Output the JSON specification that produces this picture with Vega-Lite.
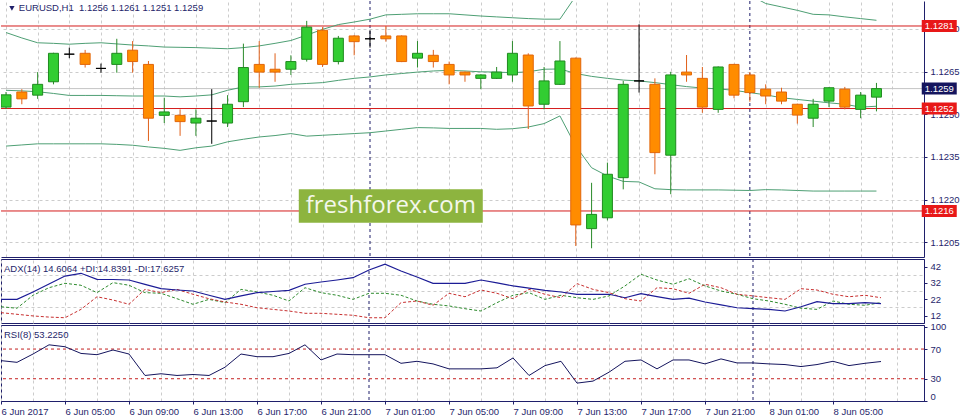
{
"$schema": "https://vega.github.io/schema/vega-lite/v6.json",
"padding": 0,
"background": "white",
"spacing": 2,
"bounds": "flush",
"config": {
  "axis": {"labelFont": "Liberation Sans", "labelFontSize": 9.5, "labelColor": "#1f1f6b", "domainColor": "#1f1f6b", "tickColor": "#1f1f6b", "gridColor": "#cccccc", "gridDash": [3, 3]},
  "text": {"font": "Liberation Sans"}
},
"datasets": {
  "bars": [
    {"t":"2017-06-06T01:00:00Z","o":1.12525,"h":1.12578,"l":1.12518,"c":1.12568,"bu":1.12787,"bm":1.12584,"bl":1.12388,"adx":22.0,"pdi":17.5,"mdi":13.9,"rsi":54.4},
    {"t":"2017-06-06T02:00:00Z","o":1.12578,"h":1.12588,"l":1.12535,"c":1.12554,"bu":1.12768,"bm":1.12582,"bl":1.12392,"adx":22.0,"pdi":16.6,"mdi":12.9,"rsi":52.1},
    {"t":"2017-06-06T03:00:00Z","o":1.12567,"h":1.12648,"l":1.12554,"c":1.12605,"bu":1.12751,"bm":1.12579,"bl":1.12396,"adx":26.5,"pdi":24.5,"mdi":11.9,"rsi":63.3},
    {"t":"2017-06-06T04:00:00Z","o":1.12614,"h":1.12716,"l":1.12605,"c":1.12714,"bu":1.12749,"bm":1.12573,"bl":1.12396,"adx":31.4,"pdi":29.1,"mdi":11.2,"rsi":75.7},
    {"t":"2017-06-06T05:00:00Z","o":1.12711,"h":1.12734,"l":1.12697,"c":1.12711,"bu":1.12746,"bm":1.12566,"bl":1.12396,"adx":36.2,"pdi":31.8,"mdi":10.8,"rsi":73.1},
    {"t":"2017-06-06T06:00:00Z","o":1.12714,"h":1.12726,"l":1.12664,"c":1.12675,"bu":1.12749,"bm":1.12566,"bl":1.12396,"adx":37.9,"pdi":30.6,"mdi":15.9,"rsi":64.1},
    {"t":"2017-06-06T07:00:00Z","o":1.12661,"h":1.12678,"l":1.12646,"c":1.12661,"bu":1.12751,"bm":1.12566,"bl":1.12396,"adx":34.2,"pdi":26.1,"mdi":23.6,"rsi":62.4},
    {"t":"2017-06-06T08:00:00Z","o":1.12675,"h":1.12765,"l":1.12646,"c":1.12714,"bu":1.12747,"bm":1.12565,"bl":1.12394,"adx":34.1,"pdi":32.2,"mdi":21.6,"rsi":68.7},
    {"t":"2017-06-06T09:00:00Z","o":1.12725,"h":1.12757,"l":1.12646,"c":1.12685,"bu":1.12743,"bm":1.12564,"bl":1.12391,"adx":33.8,"pdi":30.6,"mdi":19.0,"rsi":63.3},
    {"t":"2017-06-06T10:00:00Z","o":1.12675,"h":1.12687,"l":1.12406,"c":1.12486,"bu":1.1274,"bm":1.12564,"bl":1.12385,"adx":31.1,"pdi":26.1,"mdi":28.1,"rsi":34.4},
    {"t":"2017-06-06T11:00:00Z","o":1.12496,"h":1.12558,"l":1.12469,"c":1.12508,"bu":1.12736,"bm":1.12564,"bl":1.1238,"adx":28.5,"pdi":25.7,"mdi":26.1,"rsi":36.7},
    {"t":"2017-06-06T12:00:00Z","o":1.12496,"h":1.12517,"l":1.12424,"c":1.12474,"bu":1.12735,"bm":1.12561,"bl":1.12373,"adx":27.7,"pdi":22.4,"mdi":28.1,"rsi":34.4},
    {"t":"2017-06-06T13:00:00Z","o":1.12469,"h":1.12517,"l":1.12424,"c":1.12486,"bu":1.12734,"bm":1.12564,"bl":1.12382,"adx":27.1,"pdi":19.0,"mdi":25.1,"rsi":35.7},
    {"t":"2017-06-06T14:00:00Z","o":1.12476,"h":1.12588,"l":1.12396,"c":1.12476,"bu":1.12732,"bm":1.12568,"bl":1.12388,"adx":24.5,"pdi":22.0,"mdi":22.4,"rsi":34.4},
    {"t":"2017-06-06T15:00:00Z","o":1.12469,"h":1.12567,"l":1.12455,"c":1.12535,"bu":1.1273,"bm":1.12584,"bl":1.12403,"adx":22.0,"pdi":20.0,"mdi":20.4,"rsi":45.5},
    {"t":"2017-06-06T16:00:00Z","o":1.12544,"h":1.12748,"l":1.12525,"c":1.12664,"bu":1.12734,"bm":1.12596,"bl":1.12412,"adx":24.1,"pdi":28.1,"mdi":19.0,"rsi":63.3},
    {"t":"2017-06-06T17:00:00Z","o":1.12675,"h":1.12757,"l":1.12593,"c":1.12648,"bu":1.1274,"bm":1.12596,"bl":1.1242,"adx":26.1,"pdi":26.5,"mdi":16.9,"rsi":59.7},
    {"t":"2017-06-06T18:00:00Z","o":1.12658,"h":1.12714,"l":1.12614,"c":1.12648,"bu":1.12749,"bm":1.12599,"bl":1.12425,"adx":26.8,"pdi":24.5,"mdi":15.9,"rsi":59.7},
    {"t":"2017-06-06T19:00:00Z","o":1.12658,"h":1.12707,"l":1.12638,"c":1.12685,"bu":1.12759,"bm":1.12605,"bl":1.12432,"adx":27.5,"pdi":21.0,"mdi":14.9,"rsi":64.1},
    {"t":"2017-06-06T20:00:00Z","o":1.12693,"h":1.12828,"l":1.12685,"c":1.12806,"bu":1.12778,"bm":1.12608,"bl":1.12423,"adx":31.2,"pdi":29.1,"mdi":13.5,"rsi":75.7},
    {"t":"2017-06-06T21:00:00Z","o":1.12795,"h":1.12806,"l":1.12666,"c":1.12675,"bu":1.12798,"bm":1.12611,"bl":1.12426,"adx":32.6,"pdi":26.1,"mdi":13.5,"rsi":55.3},
    {"t":"2017-06-06T22:00:00Z","o":1.12685,"h":1.12775,"l":1.12675,"c":1.12767,"bu":1.12815,"bm":1.12619,"bl":1.12429,"adx":33.8,"pdi":24.5,"mdi":12.9,"rsi":63.3},
    {"t":"2017-06-06T23:00:00Z","o":1.12775,"h":1.12778,"l":1.12707,"c":1.12755,"bu":1.12824,"bm":1.12626,"bl":1.12432,"adx":35.2,"pdi":22.0,"mdi":12.3,"rsi":62.4},
    {"t":"2017-06-07T00:00:00Z","o":1.12765,"h":1.12795,"l":1.12734,"c":1.12765,"bu":1.12834,"bm":1.12631,"bl":1.12435,"adx":39.9,"pdi":25.7,"mdi":10.8,"rsi":62.4},
    {"t":"2017-06-07T01:00:00Z","o":1.12775,"h":1.1281,"l":1.12755,"c":1.12765,"bu":1.12849,"bm":1.12638,"bl":1.12441,"adx":43.4,"pdi":25.7,"mdi":10.8,"rsi":62.4},
    {"t":"2017-06-07T02:00:00Z","o":1.12775,"h":1.12777,"l":1.12683,"c":1.12685,"bu":1.12851,"bm":1.12643,"bl":1.12447,"adx":39.3,"pdi":24.5,"mdi":20.0,"rsi":50.8},
    {"t":"2017-06-07T03:00:00Z","o":1.12697,"h":1.12757,"l":1.12664,"c":1.12714,"bu":1.12853,"bm":1.12648,"bl":1.12453,"adx":35.6,"pdi":21.0,"mdi":21.0,"rsi":53.5},
    {"t":"2017-06-07T04:00:00Z","o":1.12707,"h":1.12726,"l":1.12664,"c":1.12685,"bu":1.12853,"bm":1.12652,"bl":1.12452,"adx":31.8,"pdi":19.0,"mdi":18.4,"rsi":50.0},
    {"t":"2017-06-07T05:00:00Z","o":1.12675,"h":1.12685,"l":1.12605,"c":1.12638,"bu":1.12853,"bm":1.12654,"bl":1.1245,"adx":31.8,"pdi":18.0,"mdi":25.7,"rsi":43.3},
    {"t":"2017-06-07T06:00:00Z","o":1.12648,"h":1.1265,"l":1.12614,"c":1.12638,"bu":1.12849,"bm":1.12652,"bl":1.1245,"adx":31.8,"pdi":16.3,"mdi":23.6,"rsi":43.3},
    {"t":"2017-06-07T07:00:00Z","o":1.12626,"h":1.1264,"l":1.12588,"c":1.12638,"bu":1.12845,"bm":1.12649,"bl":1.1245,"adx":33.8,"pdi":14.9,"mdi":27.7,"rsi":43.3},
    {"t":"2017-06-07T08:00:00Z","o":1.12626,"h":1.12666,"l":1.12624,"c":1.12648,"bu":1.12842,"bm":1.12648,"bl":1.12447,"adx":32.0,"pdi":20.0,"mdi":25.7,"rsi":44.7},
    {"t":"2017-06-07T09:00:00Z","o":1.12638,"h":1.12757,"l":1.12614,"c":1.12714,"bu":1.12839,"bm":1.12646,"bl":1.12449,"adx":30.2,"pdi":24.5,"mdi":22.4,"rsi":58.0},
    {"t":"2017-06-07T10:00:00Z","o":1.12708,"h":1.12714,"l":1.12448,"c":1.12529,"bu":1.12836,"bm":1.12649,"bl":1.12455,"adx":28.9,"pdi":26.1,"mdi":28.1,"rsi":34.4},
    {"t":"2017-06-07T11:00:00Z","o":1.12535,"h":1.12666,"l":1.12517,"c":1.12617,"bu":1.12834,"bm":1.12658,"bl":1.12467,"adx":27.5,"pdi":22.0,"mdi":25.1,"rsi":47.7},
    {"t":"2017-06-07T12:00:00Z","o":1.12605,"h":1.12757,"l":1.12603,"c":1.12687,"bu":1.12834,"bm":1.12659,"bl":1.12494,"adx":26.5,"pdi":24.5,"mdi":23.0,"rsi":53.5},
    {"t":"2017-06-07T13:00:00Z","o":1.12697,"h":1.12699,"l":1.12037,"c":1.12111,"bu":1.12915,"bm":1.12643,"bl":1.12388,"adx":25.1,"pdi":23.0,"mdi":31.6,"rsi":24.1},
    {"t":"2017-06-07T14:00:00Z","o":1.12098,"h":1.12259,"l":1.12029,"c":1.12148,"bu":1.12942,"bm":1.12633,"bl":1.12312,"adx":25.1,"pdi":22.0,"mdi":28.1,"rsi":26.8},
    {"t":"2017-06-07T15:00:00Z","o":1.12136,"h":1.1233,"l":1.12127,"c":1.12289,"bu":1.12958,"bm":1.12626,"bl":1.12283,"adx":25.1,"pdi":24.1,"mdi":26.1,"rsi":38.8},
    {"t":"2017-06-07T16:00:00Z","o":1.12277,"h":1.12617,"l":1.12236,"c":1.12605,"bu":1.12973,"bm":1.1262,"bl":1.12264,"adx":23.0,"pdi":30.2,"mdi":22.4,"rsi":53.5},
    {"t":"2017-06-07T17:00:00Z","o":1.12617,"h":1.12816,"l":1.12576,"c":1.12617,"bu":1.12972,"bm":1.12617,"bl":1.12262,"adx":25.5,"pdi":37.3,"mdi":21.0,"rsi":55.3},
    {"t":"2017-06-07T18:00:00Z","o":1.12605,"h":1.12626,"l":1.12289,"c":1.12365,"bu":1.12981,"bm":1.12611,"bl":1.12238,"adx":23.7,"pdi":33.8,"mdi":29.1,"rsi":43.3},
    {"t":"2017-06-07T19:00:00Z","o":1.12356,"h":1.12649,"l":1.12219,"c":1.12638,"bu":1.12975,"bm":1.12604,"bl":1.12235,"adx":22.0,"pdi":31.2,"mdi":28.5,"rsi":55.3},
    {"t":"2017-06-07T20:00:00Z","o":1.12648,"h":1.12708,"l":1.12614,"c":1.12638,"bu":1.12958,"bm":1.12597,"bl":1.12234,"adx":22.7,"pdi":34.6,"mdi":25.7,"rsi":55.3},
    {"t":"2017-06-07T21:00:00Z","o":1.12626,"h":1.12666,"l":1.12505,"c":1.12525,"bu":1.12951,"bm":1.12592,"bl":1.12234,"adx":20.4,"pdi":30.2,"mdi":31.2,"rsi":50.0},
    {"t":"2017-06-07T22:00:00Z","o":1.12517,"h":1.12668,"l":1.12505,"c":1.12666,"bu":1.12944,"bm":1.12589,"bl":1.12234,"adx":18.6,"pdi":27.1,"mdi":29.1,"rsi":56.7},
    {"t":"2017-06-07T23:00:00Z","o":1.12675,"h":1.12677,"l":1.12556,"c":1.12567,"bu":1.12935,"bm":1.12584,"bl":1.12233,"adx":16.9,"pdi":25.1,"mdi":25.1,"rsi":51.3},
    {"t":"2017-06-08T00:00:00Z","o":1.12638,"h":1.12648,"l":1.12544,"c":1.12576,"bu":1.12919,"bm":1.12576,"bl":1.12232,"adx":16.3,"pdi":22.4,"mdi":24.1,"rsi":51.3},
    {"t":"2017-06-08T01:00:00Z","o":1.12588,"h":1.12605,"l":1.12535,"c":1.12564,"bu":1.12889,"bm":1.12568,"bl":1.12235,"adx":15.9,"pdi":21.0,"mdi":23.0,"rsi":50.0},
    {"t":"2017-06-08T02:00:00Z","o":1.12578,"h":1.12593,"l":1.12535,"c":1.12546,"bu":1.12877,"bm":1.12558,"bl":1.12234,"adx":14.9,"pdi":19.0,"mdi":22.0,"rsi":49.1},
    {"t":"2017-06-08T03:00:00Z","o":1.12535,"h":1.12537,"l":1.12467,"c":1.12497,"bu":1.12865,"bm":1.12552,"bl":1.12232,"adx":17.5,"pdi":16.6,"mdi":28.5,"rsi":46.4},
    {"t":"2017-06-08T04:00:00Z","o":1.12486,"h":1.12554,"l":1.12455,"c":1.12535,"bu":1.12851,"bm":1.12546,"bl":1.1223,"adx":20.6,"pdi":15.9,"mdi":27.7,"rsi":49.1},
    {"t":"2017-06-08T05:00:00Z","o":1.12546,"h":1.12595,"l":1.12525,"c":1.12593,"bu":1.12849,"bm":1.1254,"bl":1.1223,"adx":19.4,"pdi":21.0,"mdi":25.1,"rsi":53.5},
    {"t":"2017-06-08T06:00:00Z","o":1.12588,"h":1.12596,"l":1.12517,"c":1.12525,"bu":1.12842,"bm":1.12535,"bl":1.1223,"adx":19.4,"pdi":19.0,"mdi":23.6,"rsi":47.7},
    {"t":"2017-06-08T07:00:00Z","o":1.12517,"h":1.12578,"l":1.12486,"c":1.12567,"bu":1.12836,"bm":1.12525,"bl":1.1223,"adx":20.0,"pdi":18.4,"mdi":24.5,"rsi":50.8},
    {"t":"2017-06-08T08:00:00Z","o":1.1256,"h":1.1261,"l":1.1251,"c":1.1259,"bu":1.1283,"bm":1.12528,"bl":1.1223,"adx":19.4,"pdi":20.0,"mdi":23.0,"rsi":53.2}
  ],
  "levels": [
    {"level": 1.1259, "kind": "price"},
    {"level": 1.1281, "kind": "level"},
    {"level": 1.1252, "kind": "level"},
    {"level": 1.1216, "kind": "level"}
  ],
  "seps": [
    {"t": "2017-06-07T00:00:00Z"},
    {"t": "2017-06-08T00:00:00Z"}
  ],
  "rsilevels": [
    {"level": 70},
    {"level": 30}
  ],
  "one": [{}]
},
"vconcat": [
  {
    "width": 923,
    "height": 256,
    "view": {"stroke": null},
    "resolve": {"axis": {"x": "independent", "y": "independent"}},
    "layer": [
      {
        "data": {"name": "seps"},
        "mark": {"type": "rule", "color": "#1f1f6b", "strokeDash": [3, 3], "strokeWidth": 1},
        "encoding": {
          "x": {"field": "t", "type": "temporal", "scale": {"type": "utc", "domain": [{"year": 2017, "month": 6, "date": 6, "hours": 1, "utc": true}, {"year": 2017, "month": 6, "date": 8, "hours": 10, "minutes": 41, "seconds": 15, "utc": true}], "nice": false},
            "axis": {"values": [1496710800000,1496718000000,1496725200000,1496732400000,1496739600000,1496746800000,1496754000000,1496761200000,1496768400000,1496775600000,1496782800000,1496790000000,1496797200000,1496804400000,1496811600000,1496818800000,1496826000000,1496833200000,1496840400000,1496847600000,1496854800000,1496862000000,1496869200000,1496876400000,1496883600000,1496890800000,1496898000000,1496905200000,1496912400000], "grid": true, "labels": false, "ticks": false, "domain": true, "title": null}}
        }
      },
      {
        "data": {"name": "levels"},
        "mark": {"type": "rule", "strokeWidth": 1},
        "encoding": {
          "y": {"field": "level", "type": "quantitative", "scale": {"domain": [1.119983, 1.128978], "nice": false, "zero": false},
            "axis": {"orient": "right", "values": [1.128, 1.1265, 1.125, 1.1235, 1.122, 1.1205], "format": ".4f", "grid": true, "tickSize": 3, "labelPadding": 3, "domain": true, "title": null, "labelOverlap": false}},
          "color": {"condition": {"test": "datum.kind == 'price'", "value": "#c4c4c4"}, "value": "#d41c1c"}
        }
      },
      {
        "data": {"name": "bars"},
        "mark": {"type": "line", "color": "#4e9f74", "strokeWidth": 1, "clip": true},
        "encoding": {
          "x": {"field": "t", "type": "temporal", "scale": {"type": "utc", "domain": [{"year": 2017, "month": 6, "date": 6, "hours": 1, "utc": true}, {"year": 2017, "month": 6, "date": 8, "hours": 10, "minutes": 41, "seconds": 15, "utc": true}], "nice": false}, "axis": null},
          "y": {"field": "bu", "type": "quantitative", "scale": {"domain": [1.119983, 1.128978], "nice": false, "zero": false}, "axis": null}
        }
      },
      {
        "data": {"name": "bars"},
        "mark": {"type": "line", "color": "#4e9f74", "strokeWidth": 1, "clip": true},
        "encoding": {
          "x": {"field": "t", "type": "temporal", "scale": {"type": "utc", "domain": [{"year": 2017, "month": 6, "date": 6, "hours": 1, "utc": true}, {"year": 2017, "month": 6, "date": 8, "hours": 10, "minutes": 41, "seconds": 15, "utc": true}], "nice": false}, "axis": null},
          "y": {"field": "bm", "type": "quantitative", "scale": {"domain": [1.119983, 1.128978], "nice": false, "zero": false}, "axis": null}
        }
      },
      {
        "data": {"name": "bars"},
        "mark": {"type": "line", "color": "#4e9f74", "strokeWidth": 1, "clip": true},
        "encoding": {
          "x": {"field": "t", "type": "temporal", "scale": {"type": "utc", "domain": [{"year": 2017, "month": 6, "date": 6, "hours": 1, "utc": true}, {"year": 2017, "month": 6, "date": 8, "hours": 10, "minutes": 41, "seconds": 15, "utc": true}], "nice": false}, "axis": null},
          "y": {"field": "bl", "type": "quantitative", "scale": {"domain": [1.119983, 1.128978], "nice": false, "zero": false}, "axis": null}
        }
      },
      {
        "data": {"name": "bars"},
        "mark": {"type": "rule", "strokeWidth": 1, "clip": true},
        "encoding": {
          "x": {"field": "t", "type": "temporal", "scale": {"type": "utc", "domain": [{"year": 2017, "month": 6, "date": 6, "hours": 1, "utc": true}, {"year": 2017, "month": 6, "date": 8, "hours": 10, "minutes": 41, "seconds": 15, "utc": true}], "nice": false}, "axis": null},
          "y": {"field": "l", "type": "quantitative", "scale": {"domain": [1.119983, 1.128978], "nice": false, "zero": false}, "axis": null},
          "y2": {"field": "h"},
          "color": {"condition": [{"test": "datum.c > datum.o", "value": "#2a8a2a"}, {"test": "datum.c < datum.o", "value": "#e0601a"}], "value": "#000000"}
        }
      },
      {
        "data": {"name": "bars"},
        "mark": {"type": "bar", "width": 10, "strokeWidth": 1, "clip": true},
        "encoding": {
          "x": {"field": "t", "type": "temporal", "scale": {"type": "utc", "domain": [{"year": 2017, "month": 6, "date": 6, "hours": 1, "utc": true}, {"year": 2017, "month": 6, "date": 8, "hours": 10, "minutes": 41, "seconds": 15, "utc": true}], "nice": false}, "axis": null},
          "y": {"field": "o", "type": "quantitative", "scale": {"domain": [1.119983, 1.128978], "nice": false, "zero": false}, "axis": null},
          "y2": {"field": "c"},
          "fill": {"condition": [{"test": "datum.c > datum.o", "value": "#32cd32"}, {"test": "datum.c < datum.o", "value": "#ff8c00"}], "value": "#000000"},
          "stroke": {"condition": [{"test": "datum.c > datum.o", "value": "#1f8a1f"}, {"test": "datum.c < datum.o", "value": "#e2660a"}], "value": "#000000"}
        }
      },
      {
        "data": {"name": "one"},
        "mark": {"type": "rect", "color": "#8db43f"},
        "encoding": {
          "x": {"datum": {"year": 2017, "month": 6, "date": 6, "hours": 19, "minutes": 30, "utc": true}, "type": "temporal", "scale": {"type": "utc", "domain": [{"year": 2017, "month": 6, "date": 6, "hours": 1, "utc": true}, {"year": 2017, "month": 6, "date": 8, "hours": 10, "minutes": 41, "seconds": 15, "utc": true}], "nice": false}, "axis": null},
          "x2": {"datum": {"year": 2017, "month": 6, "date": 7, "hours": 7, "minutes": 7, "seconds": 30, "utc": true}},
          "y": {"datum": 1.12236, "type": "quantitative", "scale": {"domain": [1.119983, 1.128978], "nice": false, "zero": false}, "axis": null},
          "y2": {"datum": 1.12119}
        }
      },
      {
        "data": {"name": "one"},
        "mark": {"type": "text", "font": "Open Sans", "fontSize": 24, "color": "#f4f7ec", "align": "center", "baseline": "middle"},
        "encoding": {
          "x": {"datum": {"year": 2017, "month": 6, "date": 7, "hours": 1, "minutes": 19, "utc": true}, "type": "temporal", "scale": {"type": "utc", "domain": [{"year": 2017, "month": 6, "date": 6, "hours": 1, "utc": true}, {"year": 2017, "month": 6, "date": 8, "hours": 10, "minutes": 41, "seconds": 15, "utc": true}], "nice": false}, "axis": null},
          "y": {"datum": 1.12178, "type": "quantitative", "scale": {"domain": [1.119983, 1.128978], "nice": false, "zero": false}, "axis": null},
          "text": {"value": "freshforex.com"}
        }
      },
      {
        "data": {"name": "levels"},
        "mark": {"type": "point", "shape": "M-1,-0.343L1,-0.343L1,0.343L-1,0.343Z", "size": 1225, "filled": true, "opacity": 1},
        "encoding": {
          "x": {"datum": {"year": 2017, "month": 6, "date": 8, "hours": 11, "minutes": 58, "utc": true}, "type": "temporal", "scale": {"type": "utc", "domain": [{"year": 2017, "month": 6, "date": 6, "hours": 1, "utc": true}, {"year": 2017, "month": 6, "date": 8, "hours": 10, "minutes": 41, "seconds": 15, "utc": true}], "nice": false}, "axis": null},
          "y": {"field": "level", "type": "quantitative", "scale": {"domain": [1.119983, 1.128978], "nice": false, "zero": false}, "axis": null},
          "color": {"condition": {"test": "datum.kind == 'price'", "value": "#15155e"}, "value": "#e81818"}
        }
      },
      {
        "data": {"name": "levels"},
        "mark": {"type": "text", "fontSize": 9.5, "color": "white", "align": "center", "baseline": "middle"},
        "encoding": {
          "x": {"datum": {"year": 2017, "month": 6, "date": 8, "hours": 11, "minutes": 58, "utc": true}, "type": "temporal", "scale": {"type": "utc", "domain": [{"year": 2017, "month": 6, "date": 6, "hours": 1, "utc": true}, {"year": 2017, "month": 6, "date": 8, "hours": 10, "minutes": 41, "seconds": 15, "utc": true}], "nice": false}, "axis": null},
          "y": {"field": "level", "type": "quantitative", "scale": {"domain": [1.119983, 1.128978], "nice": false, "zero": false}, "axis": null},
          "text": {"field": "level", "type": "quantitative", "format": ".4f"}
        }
      },
      {
        "data": {"name": "one"},
        "mark": {"type": "point", "shape": "triangle-down", "size": 28, "filled": true, "color": "#1f1f6b", "opacity": 1},
        "encoding": {
          "x": {"datum": {"year": 2017, "month": 6, "date": 6, "hours": 1, "minutes": 22, "seconds": 30, "utc": true}, "type": "temporal", "scale": {"type": "utc", "domain": [{"year": 2017, "month": 6, "date": 6, "hours": 1, "utc": true}, {"year": 2017, "month": 6, "date": 8, "hours": 10, "minutes": 41, "seconds": 15, "utc": true}], "nice": false}, "axis": null},
          "y": {"datum": 1.12872, "type": "quantitative", "scale": {"domain": [1.119983, 1.128978], "nice": false, "zero": false}, "axis": null}
        }
      },
      {
        "data": {"name": "one"},
        "mark": {"type": "text", "fontSize": 9.5, "color": "#1f1f6b", "align": "left", "baseline": "middle"},
        "encoding": {
          "x": {"datum": {"year": 2017, "month": 6, "date": 6, "hours": 1, "minutes": 48, "seconds": 45, "utc": true}, "type": "temporal", "scale": {"type": "utc", "domain": [{"year": 2017, "month": 6, "date": 6, "hours": 1, "utc": true}, {"year": 2017, "month": 6, "date": 8, "hours": 10, "minutes": 41, "seconds": 15, "utc": true}], "nice": false}, "axis": null},
          "y": {"datum": 1.12872, "type": "quantitative", "scale": {"domain": [1.119983, 1.128978], "nice": false, "zero": false}, "axis": null},
          "text": {"value": "EURUSD,H1\u00a0 1.1256 1.1261 1.1251 1.1259"}
        }
      }
    ]
  },
  {
    "width": 923,
    "height": 64,
    "view": {"stroke": "#1f1f6b"},
    "resolve": {"axis": {"x": "independent", "y": "independent"}},
    "layer": [
      {
        "data": {"name": "seps"},
        "mark": {"type": "rule", "color": "#1f1f6b", "strokeDash": [3, 3], "strokeWidth": 1},
        "encoding": {
          "x": {"field": "t", "type": "temporal", "scale": {"type": "utc", "domain": [{"year": 2017, "month": 6, "date": 6, "hours": 1, "utc": true}, {"year": 2017, "month": 6, "date": 8, "hours": 10, "minutes": 41, "seconds": 15, "utc": true}], "nice": false},
            "axis": {"values": [1496710800000,1496718000000,1496725200000,1496732400000,1496739600000,1496746800000,1496754000000,1496761200000,1496768400000,1496775600000,1496782800000,1496790000000,1496797200000,1496804400000,1496811600000,1496818800000,1496826000000,1496833200000,1496840400000,1496847600000,1496854800000,1496862000000,1496869200000,1496876400000,1496883600000,1496890800000,1496898000000,1496905200000,1496912400000], "grid": true, "labels": false, "ticks": false, "domain": false, "title": null}}
        }
      },
      {
        "data": {"name": "bars"},
        "mark": {"type": "line", "color": "#2e8b2e", "strokeWidth": 1, "strokeDash": [3, 2], "clip": true},
        "encoding": {
          "x": {"field": "t", "type": "temporal", "scale": {"type": "utc", "domain": [{"year": 2017, "month": 6, "date": 6, "hours": 1, "utc": true}, {"year": 2017, "month": 6, "date": 8, "hours": 10, "minutes": 41, "seconds": 15, "utc": true}], "nice": false}, "axis": null},
          "y": {"field": "pdi", "type": "quantitative", "scale": {"domain": [7.59, 46.61], "nice": false, "zero": false},
            "axis": {"orient": "left", "values": [36.85, 27.1, 17.34], "grid": true, "labels": false, "ticks": false, "domain": false, "title": null}}
        }
      },
      {
        "data": {"name": "bars"},
        "mark": {"type": "line", "color": "#c83030", "strokeWidth": 1, "strokeDash": [3, 2], "clip": true},
        "encoding": {
          "x": {"field": "t", "type": "temporal", "scale": {"type": "utc", "domain": [{"year": 2017, "month": 6, "date": 6, "hours": 1, "utc": true}, {"year": 2017, "month": 6, "date": 8, "hours": 10, "minutes": 41, "seconds": 15, "utc": true}], "nice": false}, "axis": null},
          "y": {"field": "mdi", "type": "quantitative", "scale": {"domain": [7.59, 46.61], "nice": false, "zero": false}, "axis": null}
        }
      },
      {
        "data": {"name": "bars"},
        "mark": {"type": "line", "color": "#1c1c96", "strokeWidth": 1.2, "clip": true},
        "encoding": {
          "x": {"field": "t", "type": "temporal", "scale": {"type": "utc", "domain": [{"year": 2017, "month": 6, "date": 6, "hours": 1, "utc": true}, {"year": 2017, "month": 6, "date": 8, "hours": 10, "minutes": 41, "seconds": 15, "utc": true}], "nice": false}, "axis": null},
          "y": {"field": "adx", "type": "quantitative", "scale": {"domain": [7.59, 46.61], "nice": false, "zero": false},
            "axis": {"orient": "right", "values": [42, 32, 22, 12], "grid": false, "tickSize": 3, "labelPadding": 3, "domain": true, "title": null, "labelOverlap": false}}
        }
      },
      {
        "data": {"name": "one"},
        "mark": {"type": "text", "fontSize": 9.5, "color": "#1f1f6b", "align": "left", "baseline": "middle"},
        "encoding": {
          "x": {"datum": {"year": 2017, "month": 6, "date": 6, "hours": 1, "minutes": 11, "seconds": 15, "utc": true}, "type": "temporal", "scale": {"type": "utc", "domain": [{"year": 2017, "month": 6, "date": 6, "hours": 1, "utc": true}, {"year": 2017, "month": 6, "date": 8, "hours": 10, "minutes": 41, "seconds": 15, "utc": true}], "nice": false}, "axis": null},
          "y": {"datum": 40.5, "type": "quantitative", "scale": {"domain": [7.59, 46.61], "nice": false, "zero": false}, "axis": null},
          "text": {"value": "ADX(14) 14.6064 +DI:14.8391 -DI:17.6257"}
        }
      }
    ]
  },
  {
    "width": 923,
    "height": 76,
    "view": {"stroke": "#1f1f6b"},
    "resolve": {"axis": {"x": "independent", "y": "independent"}},
    "layer": [
      {
        "data": {"name": "seps"},
        "mark": {"type": "rule", "color": "#1f1f6b", "strokeDash": [3, 3], "strokeWidth": 1},
        "encoding": {
          "x": {"field": "t", "type": "temporal", "scale": {"type": "utc", "domain": [{"year": 2017, "month": 6, "date": 6, "hours": 1, "utc": true}, {"year": 2017, "month": 6, "date": 8, "hours": 10, "minutes": 41, "seconds": 15, "utc": true}], "nice": false},
            "axis": {"values": [1496710800000,1496718000000,1496725200000,1496732400000,1496739600000,1496746800000,1496754000000,1496761200000,1496768400000,1496775600000,1496782800000,1496790000000,1496797200000,1496804400000,1496811600000,1496818800000,1496826000000,1496833200000,1496840400000,1496847600000,1496854800000,1496862000000,1496869200000,1496876400000,1496883600000,1496890800000,1496898000000,1496905200000,1496912400000],
              "grid": true, "domain": true, "title": null, "tickSize": 3, "labelAlign": "left", "labelPadding": 2, "labelFlush": false, "labelOverlap": false,
              "tickColor": {"condition": {"test": "(time(datum.value) - 1496710800000) % 14400000 === 0 && time(datum.value) <= 1496898000000", "value": "#1f1f6b"}, "value": "transparent"},
              "labelExpr": "(time(datum.value) - 1496710800000) % 14400000 === 0 && time(datum.value) <= 1496898000000 ? (time(datum.value) === 1496710800000 ? '6 Jun 2017' : utcFormat(datum.value, '%-d %b %H:%M')) : ''"}}
        }
      },
      {
        "data": {"name": "rsilevels"},
        "mark": {"type": "rule", "color": "#c42020", "strokeDash": [3, 3], "strokeWidth": 1},
        "encoding": {
          "y": {"field": "level", "type": "quantitative", "scale": {"domain": [0, 102.4], "nice": false, "zero": false},
            "axis": {"orient": "right", "values": [100, 70, 30, 0], "grid": false, "tickSize": 3, "labelPadding": 3, "domain": true, "title": null, "labelFlush": true, "labelOverlap": false}}
        }
      },
      {
        "data": {"name": "bars"},
        "mark": {"type": "line", "color": "#15155e", "strokeWidth": 1, "clip": true},
        "encoding": {
          "x": {"field": "t", "type": "temporal", "scale": {"type": "utc", "domain": [{"year": 2017, "month": 6, "date": 6, "hours": 1, "utc": true}, {"year": 2017, "month": 6, "date": 8, "hours": 10, "minutes": 41, "seconds": 15, "utc": true}], "nice": false}, "axis": null},
          "y": {"field": "rsi", "type": "quantitative", "scale": {"domain": [0, 102.4], "nice": false, "zero": false}, "axis": null}
        }
      },
      {
        "data": {"name": "one"},
        "mark": {"type": "text", "fontSize": 9.5, "color": "#1f1f6b", "align": "left", "baseline": "middle"},
        "encoding": {
          "x": {"datum": {"year": 2017, "month": 6, "date": 6, "hours": 1, "minutes": 11, "seconds": 15, "utc": true}, "type": "temporal", "scale": {"type": "utc", "domain": [{"year": 2017, "month": 6, "date": 6, "hours": 1, "utc": true}, {"year": 2017, "month": 6, "date": 8, "hours": 10, "minutes": 41, "seconds": 15, "utc": true}], "nice": false}, "axis": null},
          "y": {"datum": 88.9, "type": "quantitative", "scale": {"domain": [0, 102.4], "nice": false, "zero": false}, "axis": null},
          "text": {"value": "RSI(8) 53.2250"}
        }
      }
    ]
  }
]
}
